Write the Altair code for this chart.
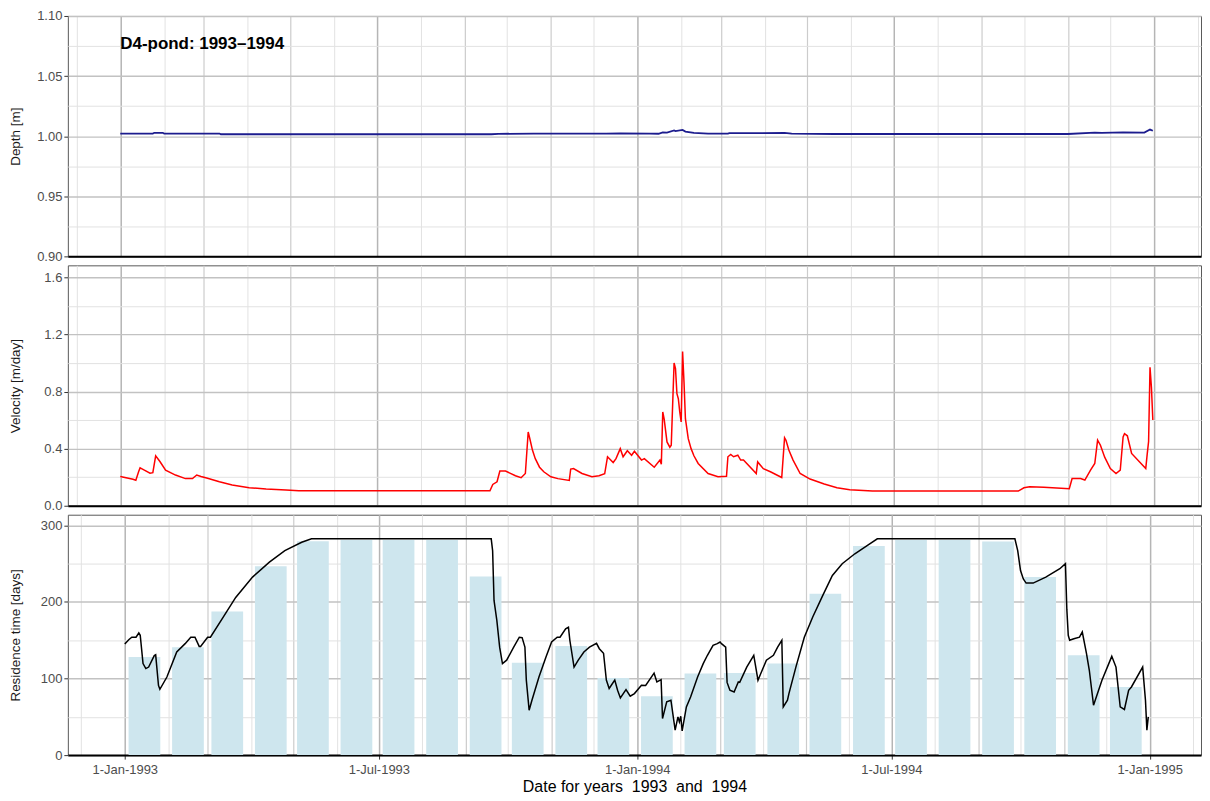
import altair as alt
import pandas as pd

FONT = "Liberation Sans"

# ---------------- data ----------------
title_text = "D4-pond: 1993\u20131994"
title_date = "1993-01-01"
title_depth = 1.077

depth_points = [
    ("1993-01-01", 1.0022), ("1993-01-24", 1.0022), ("1993-01-25", 1.0028), ("1993-01-31", 1.0028),
    ("1993-02-01", 1.0022), ("1993-03-12", 1.0022), ("1993-03-13", 1.0016), ("1993-09-20", 1.0016),
    ("1993-09-25", 1.0019), ("1993-10-20", 1.0022), ("1993-12-10", 1.0022), ("1993-12-20", 1.0024),
    ("1994-01-10", 1.0022), ("1994-01-16", 1.0020), ("1994-01-19", 1.0032), ("1994-01-22", 1.0030),
    ("1994-01-27", 1.0048), ("1994-01-28", 1.0042), ("1994-02-02", 1.0052), ("1994-02-04", 1.0038),
    ("1994-02-10", 1.0028), ("1994-02-20", 1.0022), ("1994-03-06", 1.0022), ("1994-03-07", 1.0026),
    ("1994-03-20", 1.0025), ("1994-04-15", 1.0027), ("1994-04-20", 1.0022), ("1994-05-20", 1.0018),
    ("1994-11-01", 1.0018), ("1994-11-20", 1.0030), ("1994-11-25", 1.0028), ("1994-12-10", 1.0032),
    ("1994-12-25", 1.0030), ("1994-12-29", 1.0055), ("1994-12-31", 1.0045),
]

velocity_points = [
    ("1993-01-01", 0.205), ("1993-01-10", 0.185), ("1993-01-12", 0.178), ("1993-01-14", 0.24),
    ("1993-01-15", 0.265), ("1993-01-18", 0.25), ("1993-01-22", 0.228), ("1993-01-24", 0.232),
    ("1993-01-26", 0.35), ("1993-01-29", 0.31), ("1993-02-02", 0.25), ("1993-02-09", 0.215),
    ("1993-02-16", 0.19), ("1993-02-21", 0.19), ("1993-02-24", 0.215), ("1993-02-27", 0.205),
    ("1993-03-03", 0.194), ("1993-03-12", 0.168), ("1993-03-21", 0.145), ("1993-04-02", 0.126),
    ("1993-04-14", 0.117), ("1993-04-28", 0.11), ("1993-05-07", 0.105), ("1993-09-19", 0.105),
    ("1993-09-21", 0.149), ("1993-09-24", 0.168), ("1993-09-26", 0.243), ("1993-09-30", 0.243),
    ("1993-10-07", 0.21), ("1993-10-11", 0.196), ("1993-10-14", 0.226), ("1993-10-16", 0.517),
    ("1993-10-17", 0.476), ("1993-10-19", 0.39), ("1993-10-21", 0.33), ("1993-10-24", 0.27),
    ("1993-10-27", 0.238), ("1993-11-01", 0.203),
    ("1993-11-06", 0.19), ("1993-11-14", 0.177), ("1993-11-15", 0.257), ("1993-11-17", 0.26),
    ("1993-11-23", 0.226), ("1993-11-30", 0.203), ("1993-12-05", 0.21), ("1993-12-09", 0.224),
    ("1993-12-11", 0.343), ("1993-12-15", 0.303), ("1993-12-17", 0.33), ("1993-12-20", 0.40),
    ("1993-12-22", 0.343), ("1993-12-25", 0.385), ("1993-12-28", 0.354), ("1993-12-30", 0.382),
    ("1994-01-04", 0.32), ("1994-01-06", 0.33), ("1994-01-13", 0.27), ("1994-01-17", 0.32),
    ("1994-01-18", 0.29), ("1994-01-19", 0.657), ("1994-01-20", 0.606), ("1994-01-22", 0.447),
    ("1994-01-24", 0.41), ("1994-01-25", 0.424), ("1994-01-27", 1.0), ("1994-01-28", 0.96),
    ("1994-01-29", 0.785), ("1994-01-30", 0.75), ("1994-01-31", 0.657), ("1994-02-01", 0.587),
    ("1994-02-02", 1.08), ("1994-02-03", 0.867), ("1994-02-04", 0.61), ("1994-02-06", 0.47),
    ("1994-02-08", 0.40), ("1994-02-10", 0.35),
    ("1994-02-13", 0.296), ("1994-02-20", 0.226), ("1994-02-27", 0.203), ("1994-03-05", 0.207),
    ("1994-03-06", 0.343), ("1994-03-08", 0.359), ("1994-03-10", 0.343), ("1994-03-13", 0.354),
    ("1994-03-15", 0.32), ("1994-03-17", 0.32), ("1994-03-26", 0.226), ("1994-03-27", 0.307),
    ("1994-03-31", 0.26), ("1994-04-05", 0.238), ("1994-04-13", 0.198), ("1994-04-15", 0.476),
    ("1994-04-16", 0.459), ("1994-04-18", 0.39), ("1994-04-21", 0.32), ("1994-04-26", 0.226),
    ("1994-05-03", 0.187),
    ("1994-05-13", 0.152), ("1994-05-22", 0.126), ("1994-05-31", 0.112), ("1994-06-16", 0.103),
    ("1994-09-27", 0.103), ("1994-10-01", 0.126), ("1994-10-05", 0.133), ("1994-10-15", 0.13),
    ("1994-11-02", 0.119), ("1994-11-04", 0.19), ("1994-11-10", 0.19), ("1994-11-13", 0.18),
    ("1994-11-17", 0.25), ("1994-11-20", 0.296), ("1994-11-22", 0.459), ("1994-11-24", 0.424),
    ("1994-11-27", 0.34), ("1994-12-01", 0.26), ("1994-12-05", 0.226), ("1994-12-08", 0.25),
    ("1994-12-10", 0.482),
    ("1994-12-11", 0.505), ("1994-12-13", 0.49), ("1994-12-16", 0.366), ("1994-12-26", 0.26),
    ("1994-12-27", 0.36), ("1994-12-28", 0.45), ("1994-12-29", 0.97), ("1994-12-30", 0.83),
    ("1994-12-31", 0.60),
]

residence_points = [
    ("1993-01-01", 145), ("1993-01-04", 151), ("1993-01-06", 154), ("1993-01-09", 154),
    ("1993-01-11", 159.5), ("1993-01-12", 156.5), ("1993-01-14", 119.5), ("1993-01-16", 113),
    ("1993-01-18", 115), ("1993-01-22", 130), ("1993-01-23", 131), ("1993-01-25", 91),
    ("1993-01-26", 86), ("1993-01-31", 102), ("1993-02-07", 134.7), ("1993-02-13", 145.6),
    ("1993-02-17", 154), ("1993-02-20", 154), ("1993-02-23", 142), ("1993-02-24", 142),
    ("1993-03-01", 154), ("1993-03-03", 154), ("1993-03-12", 180), ("1993-03-21", 206),
    ("1993-04-02", 232.5), ("1993-04-14", 252), ("1993-04-25", 267), ("1993-05-07", 278),
    ("1993-05-14", 282.5), ("1993-09-19", 282.5), ("1993-09-20", 267), ("1993-09-21", 202),
    ("1993-09-23", 176), ("1993-09-25", 141), ("1993-09-27", 119.5), ("1993-09-30", 124),
    ("1993-10-05", 141), ("1993-10-09", 154), ("1993-10-11", 153.5), ("1993-10-13", 141),
    ("1993-10-14", 98), ("1993-10-16", 58.7), ("1993-10-18", 71.7), ("1993-10-23", 102),
    ("1993-10-28", 128), ("1993-11-01", 147.7), ("1993-11-05", 154), ("1993-11-07", 154),
    ("1993-11-11", 165), ("1993-11-13", 167), ("1993-11-14", 150), ("1993-11-17", 115),
    ("1993-11-20", 124), ("1993-11-24", 134.7), ("1993-11-28", 141), ("1993-12-03", 146),
    ("1993-12-05", 139), ("1993-12-08", 133), ("1993-12-10", 98), ("1993-12-12", 87),
    ("1993-12-16", 98), ("1993-12-18", 84.7), ("1993-12-20", 74.7), ("1993-12-24", 85.6),
    ("1993-12-27", 77), ("1993-12-30", 80.4), ("1994-01-04", 91.3), ("1994-01-07", 91),
    ("1994-01-13", 107), ("1994-01-15", 95.6), ("1994-01-18", 98.6), ("1994-01-19", 47.8),
    ("1994-01-22", 69.5), ("1994-01-25", 71.7), ("1994-01-28", 32.6), ("1994-01-30", 50),
    ("1994-01-31", 43.5), ("1994-02-01", 50.8), ("1994-02-02", 31.7), ("1994-02-05", 63),
    ("1994-02-08", 76), ("1994-02-13", 102), ("1994-02-17", 119.5), ("1994-02-20", 130.4),
    ("1994-02-24", 143.4), ("1994-02-27", 145.6), ("1994-03-01", 147.7), ("1994-03-02", 145.6),
    ("1994-03-05", 141), ("1994-03-06", 95), ("1994-03-08", 84.7), ("1994-03-11", 82.5),
    ("1994-03-14", 95.6), ("1994-03-15", 95), ("1994-03-20", 115), ("1994-03-25", 130.4),
    ("1994-03-26", 119.5), ("1994-03-28", 97.8), ("1994-03-30", 106.5), ("1994-04-03", 124),
    ("1994-04-08", 130.4), ("1994-04-11", 141), ("1994-04-14", 150), ("1994-04-15", 63),
    ("1994-04-18", 71.7), ("1994-04-19", 80), ("1994-04-24", 115), ("1994-04-30", 154),
    ("1994-05-06", 180.4), ("1994-05-13", 208), ("1994-05-20", 234.7), ("1994-05-27", 250),
    ("1994-06-05", 263), ("1994-06-14", 273.8), ("1994-06-21", 282.5), ("1994-09-27", 282.5),
    ("1994-09-29", 267), ("1994-10-01", 241), ("1994-10-03", 230), ("1994-10-05", 224.7),
    ("1994-10-10", 224.7), ("1994-10-19", 232.5), ("1994-10-29", 243.4), ("1994-11-02", 250),
    ("1994-11-03", 190), ("1994-11-04", 156.5), ("1994-11-05", 150), ("1994-11-08", 152),
    ("1994-11-12", 154), ("1994-11-14", 160.8), ("1994-11-17", 132.6), ("1994-11-19", 110.8),
    ("1994-11-22", 65.2), ("1994-11-28", 97.8), ("1994-12-05", 129), ("1994-12-08", 115),
    ("1994-12-11", 63), ("1994-12-14", 59.6), ("1994-12-17", 84.7), ("1994-12-19", 89),
    ("1994-12-27", 115), ("1994-12-29", 71.7), ("1994-12-30", 32.6), ("1994-12-31", 50),
]

bar_months = [
    "1993-01-15", "1993-02-15", "1993-03-15", "1993-04-15", "1993-05-15", "1993-06-15",
    "1993-07-15", "1993-08-15", "1993-09-15", "1993-10-15", "1993-11-15", "1993-12-15",
    "1994-01-15", "1994-02-15", "1994-03-15", "1994-04-15", "1994-05-15", "1994-06-15",
    "1994-07-15", "1994-08-15", "1994-09-15", "1994-10-15", "1994-11-15", "1994-12-15",
]
bar_values = [
    128, 141, 187.7, 246.8, 279.4, 281, 281, 281, 233.4, 120.8, 142.6, 100.8,
    77, 106.5, 107.4, 119.5, 210.8, 273, 281, 281, 279, 232.5, 130.4, 89,
]

month_starts = [
    "1992-12-01",
    "1993-01-01", "1993-02-01", "1993-03-01", "1993-04-01", "1993-05-01", "1993-06-01",
    "1993-07-01", "1993-08-01", "1993-09-01", "1993-10-01", "1993-11-01", "1993-12-01",
    "1994-01-01", "1994-02-01", "1994-03-01", "1994-04-01", "1994-05-01", "1994-06-01",
    "1994-07-01", "1994-08-01", "1994-09-01", "1994-10-01", "1994-11-01", "1994-12-01",
    "1995-01-01", "1995-02-01",
]

depth_ticks = [0.9, 0.925, 0.95, 0.975, 1.0, 1.025, 1.05, 1.075, 1.1]
velocity_ticks = [0.0, 0.2, 0.4, 0.6, 0.8, 1.0, 1.2, 1.4, 1.6]
residence_ticks = [0, 50, 100, 150, 200, 250, 300]

# ---------------- tables ----------------
depth_df = pd.DataFrame(depth_points, columns=["date", "value"])
vel_df = pd.DataFrame(velocity_points, columns=["date", "value"])
res_df = pd.DataFrame(residence_points, columns=["date", "value"])
bars_df = pd.DataFrame({"date": bar_months, "value": bar_values})
ann_df = pd.DataFrame({"date": [title_date], "value": [title_depth], "label": [title_text]})


def dt(s):
    y, m, d = (int(p) for p in s.split("-"))
    return alt.DateTime(year=y, month=m, date=d, utc=True)


W, H = 1136, 241
x_scale = alt.Scale(type="utc", domain=[dt("1992-11-25"), dt("1995-02-03")], nice=False)
x_values = [dt(s) for s in month_starts]

MAJOR_X = "utcmonth(datum.value) % 6 == 0"
MID_X = "utcmonth(datum.value) % 2 == 0"


def x_axis(bottom):
    kw = dict(
        values=x_values,
        grid=True,
        gridColor={"condition": [{"test": MAJOR_X, "value": "#b5b5b5"},
                                 {"test": MID_X, "value": "#cccccc"}], "value": "#e2e2e2"},
        gridWidth={"condition": [{"test": MAJOR_X, "value": 1.5},
                                 {"test": MID_X, "value": 1.2}], "value": 1},
        domainColor="black",
        domainWidth=2,
        labelOverlap=False,
    )
    if bottom:
        kw.update(
            labels=True,
            labelExpr=f"{MAJOR_X} ? utcFormat(datum.value, '%-d-%b-%Y') : ''",
            ticks=True,
            tickSize=4,
            tickColor="#333333",
            tickOpacity={"condition": {"test": MAJOR_X, "value": 1}, "value": 0},
            labelPadding=4,
            title="Date for years\u00a0 1993\u00a0 and\u00a0 1994",
            titleFontSize=16,
            titleColor="black",
            titlePadding=2,
        )
    else:
        kw.update(labels=False, ticks=False, title=None, minExtent=0, maxExtent=0, offset=0)
    return alt.Axis(**kw)


def y_axis(values, major, fmt, title):
    return alt.Axis(
        values=values,
        grid=True,
        gridColor={"condition": {"test": major, "value": "#c2c2c2"}, "value": "#e2e2e2"},
        gridWidth={"condition": {"test": major, "value": 1.4}, "value": 1},
        domain=False,
        ticks=True,
        tickSize=4,
        tickColor="#333333",
        tickOpacity={"condition": {"test": major, "value": 1}, "value": 0},
        labelExpr=f"{major} ? format(datum.value, '{fmt}') : ''",
        labelPadding=2,
        labelOverlap=False,
        title=title,
        titleX=-45,
        titleY=H / 2,
        titleBaseline="bottom",
        titleAlign="center",
        titleAngle=-90,
    )


# ---------------- top panel: depth ----------------
x_top = alt.X("date:T", scale=x_scale, axis=x_axis(False))
y_top = alt.Y("value:Q", scale=alt.Scale(domain=[0.9, 1.1], nice=False, zero=False),
              axis=y_axis(depth_ticks, "round(datum.value*1000) % 50 == 0", ".2f", "Depth [m]"))
depth_line = alt.Chart(depth_df).mark_line(color="#1c1c8e", strokeWidth=1.8).encode(x=x_top, y=y_top)
depth_text = alt.Chart(ann_df).mark_text(
    align="left", baseline="middle", font=FONT, fontSize=17, fontWeight="bold", color="black"
).encode(x=x_top, y=y_top, text="label:N")
top = alt.layer(depth_line, depth_text).properties(width=W, height=H)

# ---------------- middle panel: velocity ----------------
x_mid = alt.X("date:T", scale=x_scale, axis=x_axis(False))
y_mid = alt.Y("value:Q", scale=alt.Scale(domain=[0, 1.684], nice=False, zero=False),
              axis=y_axis(velocity_ticks, "round(datum.value*10) % 4 == 0", ".1f", "Velocity [m/day]"))
mid = alt.Chart(vel_df).mark_line(color="#ff0000", strokeWidth=1.5).encode(
    x=x_mid, y=y_mid).properties(width=W, height=H)

# ---------------- bottom panel: residence time ----------------
x_bot = alt.X("date:T", scale=x_scale, axis=x_axis(True))
y_bot = alt.Y("value:Q", scale=alt.Scale(domain=[0, 314], nice=False, zero=False),
              axis=y_axis(residence_ticks, "round(datum.value) % 100 == 0", "d", "Residence time [days]"))
bars = alt.Chart(bars_df).mark_bar(size=31.8, color="#cee6ee").encode(x=x_bot, y=y_bot)
res_line = alt.Chart(res_df).mark_line(color="black", strokeWidth=1.5).encode(x=x_bot, y=y_bot)
bot = alt.layer(bars, res_line).properties(width=W, height=H)

chart = alt.vconcat(top, mid, bot, spacing=0).properties(
    padding={"left": 0, "top": 0, "right": 0, "bottom": 0}
).configure_axis(
    labelFont=FONT,
    titleFont=FONT,
    labelFontSize=13,
    labelColor="#4d4d4d",
    titleFontSize=13.5,
    titleColor="#1a1a1a",
    titleFontWeight="normal",
).configure_view(stroke="#595959", strokeWidth=1)

chart.save("out.html", embed_options={"renderer": "svg", "actions": False})
